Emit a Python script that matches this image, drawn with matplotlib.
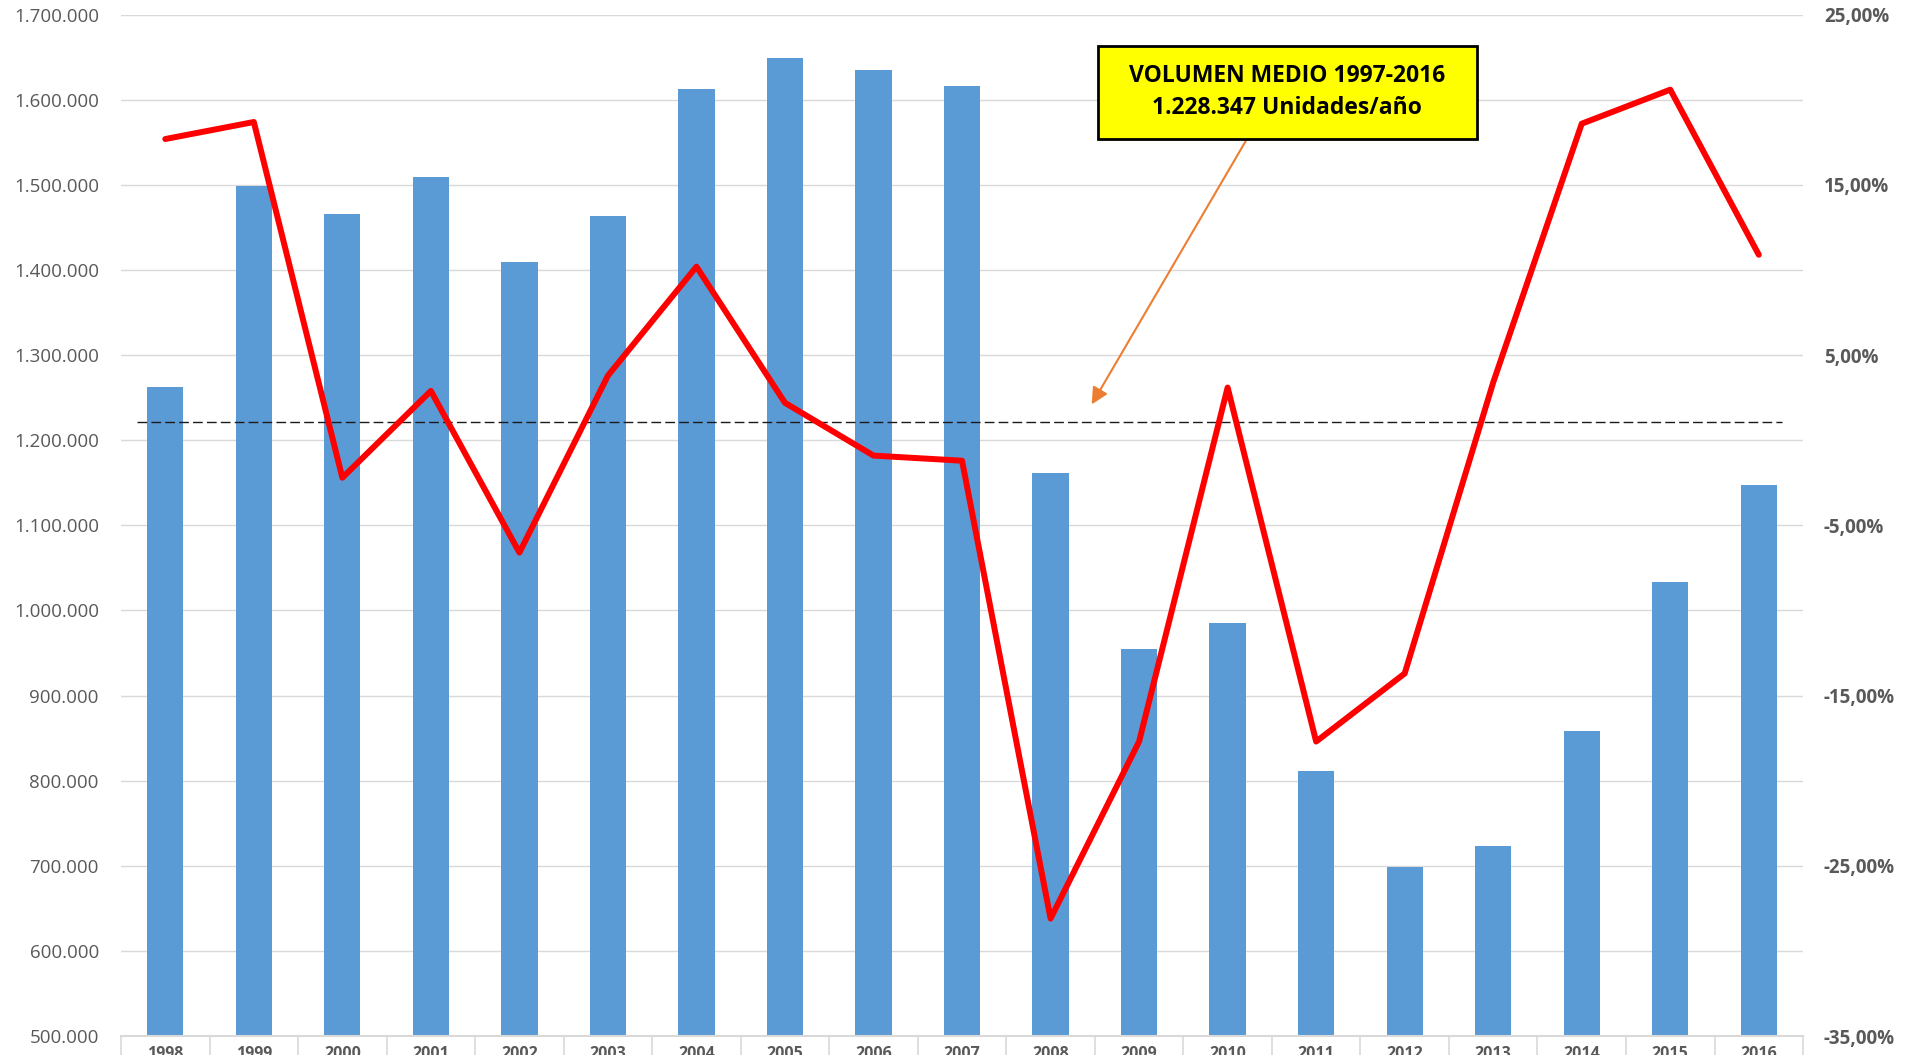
import matplotlib
matplotlib.use("Agg")
from matplotlib import pyplot as plt
from matplotlib.ticker import FuncFormatter, MultipleLocator, FixedLocator
from matplotlib.patches import Rectangle

# DATA
years = ["1998", "1999", "2000", "2001", "2002", "2003", "2004", "2005", "2006",
         "2007", "2008", "2009", "2010", "2011", "2012", "2013", "2014", "2015",
         "2016"]
volumen = [1263000, 1499000, 1466000, 1509000, 1410000, 1464000, 1613000,
           1649000, 1635000, 1616000, 1161000, 955000, 985000, 811000, 699000,
           723000, 858000, 1034000, 1147000]
variacion = [0.177, 0.187, -0.022, 0.029, -0.066, 0.038, 0.102, 0.022, -0.009,
             -0.012, -0.281, -0.177, 0.031, -0.177, -0.137, 0.034, 0.186, 0.206,
             0.109]
ticks_variacion = [-0.35, -0.25, -0.15, -0.05, 0.05, 0.15, 0.25]
media_linea = 1221000
texto_media = "VOLUMEN MEDIO 1997-2016\n1.228.347 Unidades/año"

# STYLE
BAR_COLOR = "#5B9BD5"
LINE_COLOR = "#FF0000"
GRID_COLOR = "#D9D9D9"
TEXT_COLOR = "#595959"
FONT = "Open Sans"


def miles(v, pos):
    return "{:,.0f}".format(v).replace(",", ".")


def porcentaje(v, pos):
    return "{:.2f}%".format(v * 100).replace(".", ",")


def main():
    fig = plt.figure(figsize=(19.09, 10.55), dpi=100)
    ax = fig.add_axes([0.0634, 0.018, 0.8811, 0.968])

    x = list(range(len(years)))
    ax.bar(x, volumen, width=0.41, color=BAR_COLOR, zorder=2)

    ax.set_xlim(-0.5, len(years) - 0.5)
    ax.set_ylim(500000, 1700000)
    ax.yaxis.set_major_locator(MultipleLocator(100000))
    ax.yaxis.set_major_formatter(FuncFormatter(miles))
    ax.grid(axis="y", color=GRID_COLOR, linewidth=1.0, zorder=0)
    ax.set_axisbelow(True)

    for s in ["top", "right", "left"]:
        ax.spines[s].set_visible(False)
    ax.spines["bottom"].set_color(GRID_COLOR)
    ax.spines["bottom"].set_linewidth(1.5)

    # year labels sit right at the bottom edge, partly cut off like the original
    ax.set_xticks(x)
    ax.set_xticklabels(years, fontsize=11.5, fontweight="bold",
                       color=TEXT_COLOR, family=FONT)
    ax.set_xticks([i - 0.5 for i in range(len(years) + 1)], minor=True)
    ax.tick_params(axis="x", which="major", length=0, pad=7)
    ax.tick_params(axis="x", which="minor", length=16, color=GRID_COLOR,
                   width=1.2)
    ax.tick_params(axis="y", length=0, pad=16, labelsize=13.5,
                   labelcolor=TEXT_COLOR)
    for lab in ax.get_yticklabels():
        lab.set_family(FONT)

    # Dashed mean line
    ax.plot([-0.32, 18.26], [media_linea, media_linea], color="#1a1a1a",
            linewidth=1.0, dashes=(7, 3), zorder=3)

    # Secondary axis: yearly variation
    ax2 = ax.twinx()
    ax2.plot(x, variacion, color=LINE_COLOR, linewidth=4.3,
             solid_joinstyle="round", solid_capstyle="round", zorder=4)
    ax2.set_ylim(-0.35, 0.25)
    ax2.yaxis.set_major_locator(FixedLocator(ticks_variacion))
    ax2.yaxis.set_major_formatter(FuncFormatter(porcentaje))
    ax2.tick_params(axis="y", length=0, pad=15, labelsize=13.5,
                    labelcolor=TEXT_COLOR)
    for lab in ax2.get_yticklabels():
        lab.set_family(FONT)
        lab.set_fontweight("bold")
    for s in ["top", "right", "left", "bottom"]:
        ax2.spines[s].set_visible(False)

    # Annotation box + arrow
    ax2.add_patch(Rectangle((0.5806, 0.8787), 0.2255, 0.0905,
                            transform=ax2.transAxes, facecolor="#FFFF00",
                            edgecolor="black", linewidth=2, zorder=6,
                            clip_on=False))
    ax2.text(0.6934, 0.924, texto_media, transform=ax2.transAxes,
             ha="center", va="center", fontsize=16.5, fontweight="bold",
             family=FONT, linespacing=1.45, zorder=7)
    ax2.annotate("", xy=(0.5771, 0.6185), xytext=(0.6695, 0.8787),
                 xycoords="axes fraction", textcoords="axes fraction",
                 arrowprops=dict(arrowstyle="-|>", color="#ED7D31", lw=1.5,
                                 mutation_scale=25, shrinkA=0, shrinkB=0),
                 zorder=5)

    plt.savefig("out.png", dpi=100)


if __name__ == "__main__":
    main()
